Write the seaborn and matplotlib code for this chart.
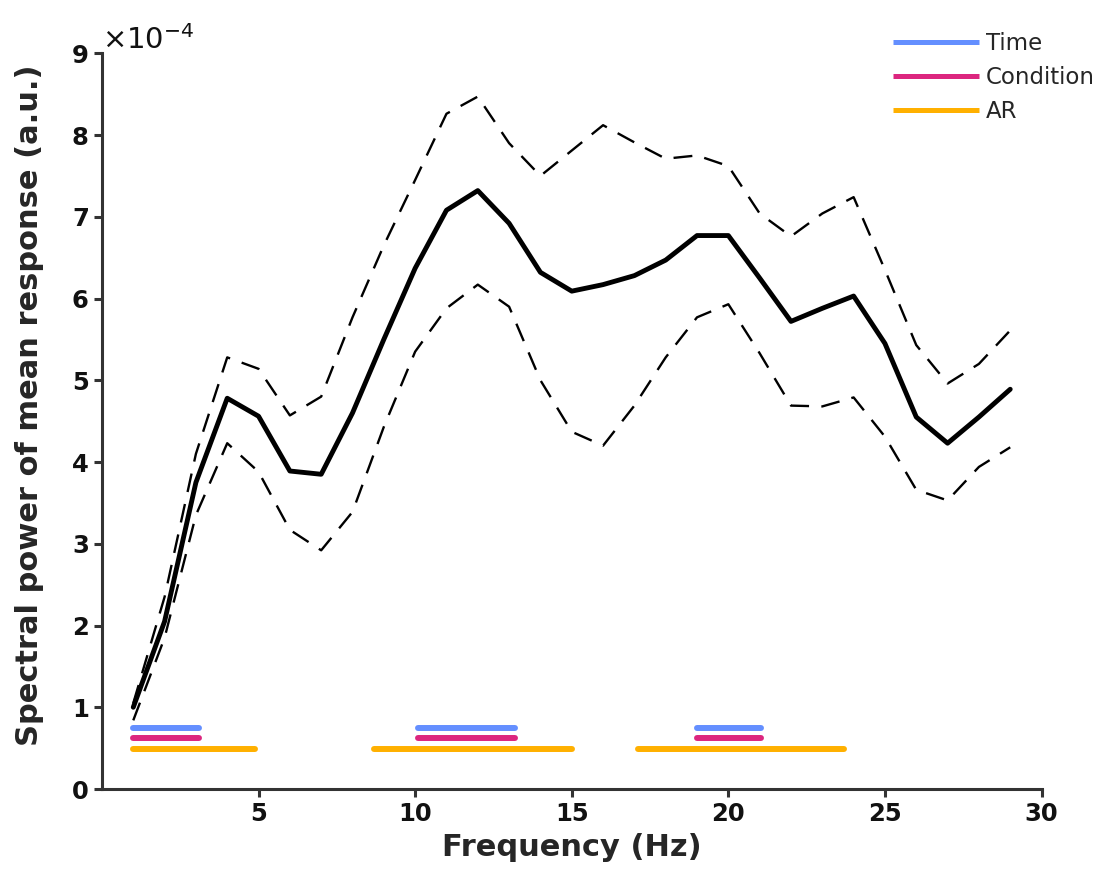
import numpy as np
import pandas as pd
import matplotlib
matplotlib.use("Agg")
import matplotlib.pyplot as plt
import seaborn as sns
from matplotlib.ticker import ScalarFormatter

# ---- data (values in units of 1e-4) ----
freqs = list(range(1, 30))
mean_power = [1.00, 2.05, 3.75, 4.78, 4.56, 3.89, 3.85, 4.60, 5.50, 6.37,
              7.08, 7.32, 6.92, 6.32, 6.09, 6.17, 6.28, 6.47, 6.77, 6.77,
              6.25, 5.72, 5.88, 6.03, 5.45, 4.55, 4.23, 4.55, 4.89]
upper_power = [1.05, 2.35, 4.10, 5.28, 5.14, 4.57, 4.80, 5.77, 6.65, 7.45,
               8.26, 8.47, 7.90, 7.50, 7.81, 8.12, 7.91, 7.71, 7.75, 7.62,
               7.04, 6.76, 7.04, 7.24, 6.35, 5.43, 4.96, 5.20, 5.61]
lower_power = [0.84, 1.85, 3.35, 4.23, 3.88, 3.17, 2.92, 3.39, 4.43, 5.35,
               5.88, 6.17, 5.90, 5.00, 4.37, 4.20, 4.69, 5.28, 5.77, 5.93,
               5.33, 4.69, 4.68, 4.79, 4.31, 3.66, 3.53, 3.94, 4.18]
scale = 1e-4

effect_names = ["Time", "Condition", "AR"]
effect_colors = ["#648FFF", "#DC267F", "#FFB000"]
effect_levels = [0.75, 0.62, 0.49]  # bar heights (1e-4 units)
effect_ranges = [
    [(1.0, 3.1), (10.1, 13.2), (19.0, 21.05)],
    [(1.0, 3.1), (10.1, 13.2), (19.0, 21.05)],
    [(1.0, 4.9), (8.7, 15.0), (17.1, 23.7)],
]

xticks = [5, 10, 15, 20, 25, 30]
yticks = list(range(0, 10))

# ---- plot ----
sns.set_style("ticks")
plt.rcParams["font.family"] = ["DejaVu Sans"]

fig = plt.figure(figsize=(11.01, 8.73), dpi=100)
ax = fig.add_axes([0.0926, 0.0962, 0.946 - 0.0926, 0.939 - 0.0962])

df = pd.DataFrame({
    "freq": freqs,
    "mean": np.array(mean_power) * scale,
    "upper": np.array(upper_power) * scale,
    "lower": np.array(lower_power) * scale,
})

sns.lineplot(data=df, x="freq", y="mean", ax=ax, color="black", lw=3.5)
sns.lineplot(data=df, x="freq", y="upper", ax=ax, color="black", lw=1.7,
             dashes=False, linestyle=(0, (8, 5.2)))
sns.lineplot(data=df, x="freq", y="lower", ax=ax, color="black", lw=1.7,
             dashes=False, linestyle=(0, (8, 5.2)))

for name, color, level, ranges in zip(effect_names, effect_colors,
                                      effect_levels, effect_ranges):
    for i, (a, b) in enumerate(ranges):
        ax.plot([a, b], [level * scale, level * scale], color=color, lw=4.3,
                solid_capstyle="round", label=name if i == 0 else None)

ax.set_xlim(0, 30)
ax.set_ylim(0, 9 * scale)
ax.set_xticks(xticks)
ax.set_yticks([t * scale for t in yticks])

fmt = ScalarFormatter(useMathText=True)
fmt.set_powerlimits((-3, 3))
ax.yaxis.set_major_formatter(fmt)
ax.yaxis.get_offset_text().set_fontsize(21)
ax.yaxis.get_offset_text().set_color("#333333")

ax.set_xlabel("Frequency (Hz)", fontsize=22, fontweight="bold", labelpad=5)
ax.set_ylabel("Spectral power of mean response (a.u.)", fontsize=22,
              fontweight="bold")
ax.yaxis.set_label_coords(-0.062, 0.522)

for side in ["top", "right"]:
    ax.spines[side].set_visible(False)
for side in ["left", "bottom"]:
    ax.spines[side].set_linewidth(2.2)
    ax.spines[side].set_color("#333333")
ax.tick_params(axis="both", width=2.2, length=6, color="#333333",
               labelsize=17.5, labelcolor="#111111")
for lab in ax.get_xticklabels() + ax.get_yticklabels():
    lab.set_fontweight("bold")

leg = ax.legend(loc="upper left", bbox_to_anchor=(893 / 1101, 1 - 32 / 873),
                bbox_transform=fig.transFigure, frameon=False, fontsize=16.5,
                handlelength=3.75, handletextpad=0.3, labelspacing=0.48,
                borderpad=0, borderaxespad=0)
for line in leg.get_lines():
    line.set_linewidth(3.6)
    line.set_solid_capstyle("butt")

fig.savefig("out.png", dpi=100)
